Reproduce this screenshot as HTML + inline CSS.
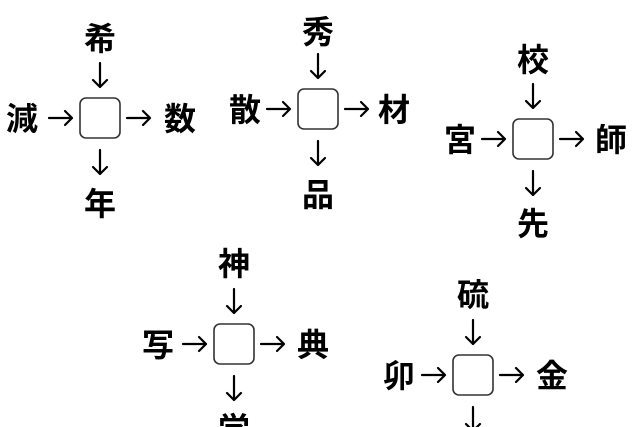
<!DOCTYPE html>
<html><head><meta charset="utf-8"><style>
html,body{margin:0;padding:0;background:#fff;}
svg{display:block;}
text{font-family:"Liberation Sans","Noto Sans CJK JP",sans-serif;font-weight:bold;font-size:32px;fill:#000;text-anchor:middle;}
.a{stroke:#000;stroke-width:2.2;fill:none;stroke-linecap:round;stroke-linejoin:round;}
.b{stroke:#333;stroke-width:1.6;fill:#fff;}
</style></head><body>
<svg width="640" height="427" viewBox="0 0 640 427" xmlns="http://www.w3.org/2000/svg">
<defs>
<g id="u">
<rect class="b" x="-20" y="-20" width="40" height="40" rx="6"/>
<path class="a" d="M-51 0H-28M-35 -7L-28 0L-35 7"/>
<path class="a" d="M27 0H50M43 -7L50 0L43 7"/>
<path class="a" d="M0 -55V-31M-7 -38L0 -31L7 -38"/>
<path class="a" d="M0 32V56M-7 49L0 56L7 49"/>
</g>
</defs>
<use href="#u" x="100" y="118"/>
<text x="100" y="50">希</text>
<text x="22" y="130">減</text>
<text x="180" y="130">数</text>
<text x="100" y="215">年</text>

<use href="#u" x="318" y="109"/>
<text x="318" y="43">秀</text>
<text x="245" y="121">散</text>
<text x="394" y="121">材</text>
<text x="318" y="206">品</text>

<use href="#u" x="533" y="139"/>
<text x="533" y="71">校</text>
<text x="460" y="151">宮</text>
<text x="611" y="151">師</text>
<text x="533" y="235">先</text>

<use href="#u" x="234" y="344"/>
<text x="234" y="275">神</text>
<text x="158" y="356">写</text>
<text x="313" y="356">典</text>
<text x="234" y="440">学</text>

<use href="#u" x="473" y="375"/>
<text x="473" y="306">硫</text>
<text x="399" y="387">卯</text>
<text x="552" y="387">金</text>
</svg>
</body></html>
